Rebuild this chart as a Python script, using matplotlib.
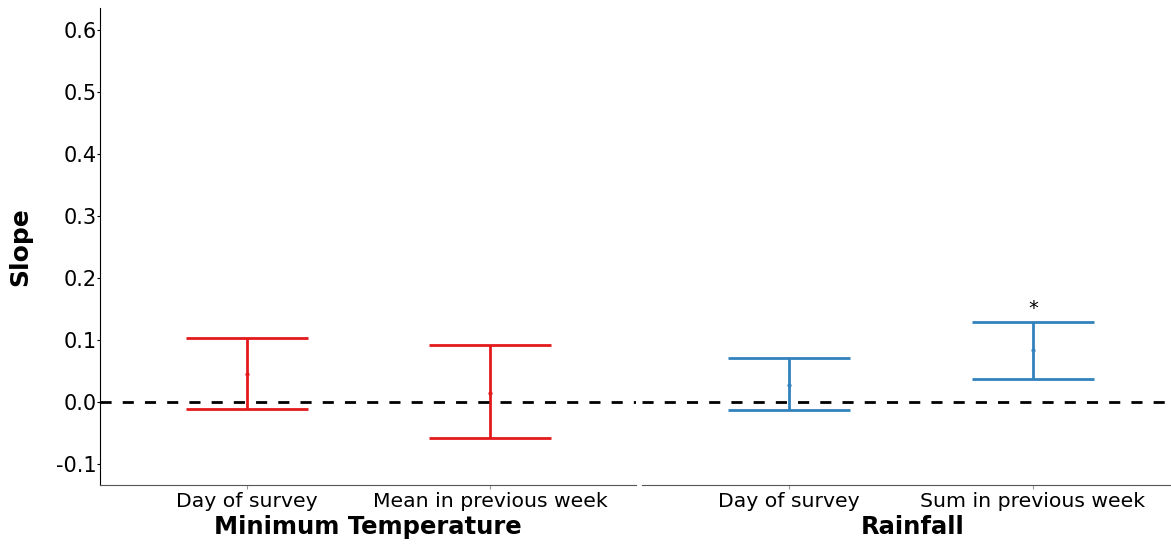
import numpy as np
import matplotlib.pyplot as plt

# data
temp_labels = ["Day of survey", "Mean in previous week"]
temp_est = [0.045, 0.015]
temp_low = [-0.011, -0.059]
temp_high = [0.103, 0.092]

rain_labels = ["Day of survey", "Sum in previous week"]
rain_est = [0.027, 0.083]
rain_low = [-0.013, 0.037]
rain_high = [0.071, 0.128]
rain_signif = [False, True]

yticks = [-0.1, 0.0, 0.1, 0.2, 0.3, 0.4, 0.5, 0.6]

fig = plt.figure(figsize=(11.71, 5.44), dpi=100)
ax1 = fig.add_axes([100/1171, 1-485/544, 536/1171, 477/544])
ax2 = fig.add_axes([642/1171, 1-485/544, 541/1171, 477/544], sharey=ax1)

def panel(ax, labels, est, low, high, color, title, xlim):
    x = np.arange(len(labels))
    est = np.array(est)
    err = [est - np.array(low), np.array(high) - est]
    ax.errorbar(x, est, yerr=err, fmt='o', ms=2, color=color, ecolor=color,
                elinewidth=2, capsize=44, capthick=2)
    ax.axhline(0, color='black', ls='--', lw=2, dashes=(4, 4))
    ax.set_xticks(x)
    ax.set_xticklabels(labels, fontsize=14.7)
    ax.set_xlim(*xlim)
    ax.set_xlabel(title, fontsize=17.5, fontweight='bold', labelpad=3)
    for s in ['top', 'right']:
        ax.spines[s].set_visible(False)
    ax.spines['bottom'].set_color('#555555')
    ax.tick_params(axis='x', length=3, color='#999999', pad=2)

panel(ax1, temp_labels, temp_est, temp_low, temp_high, '#e31a1c', "Minimum Temperature", (-0.605, 1.6))
panel(ax2, rain_labels, rain_est, rain_low, rain_high, '#3182bd', "Rainfall", (-0.6025, 1.615))

for i, s in enumerate(rain_signif):
    if s:
        ax2.text(i, rain_high[i] + 0.008, "*", ha='center', va='bottom', fontsize=14)

ax1.set_ylim(-0.134, 0.635)
ax1.set_yticks(yticks)
ax1.set_yticklabels(["-0.1", "0.0", "0.1", "0.2", "0.3", "0.4", "0.5", "0.6"], fontsize=15)
ax1.tick_params(axis='y', length=2, pad=0.5)
ax1.set_ylabel("Slope", fontsize=18, fontweight='bold', labelpad=17)
ax2.spines['left'].set_visible(False)
ax2.tick_params(axis='y', left=False, labelleft=False)

fig.savefig("out.png", dpi=100)
